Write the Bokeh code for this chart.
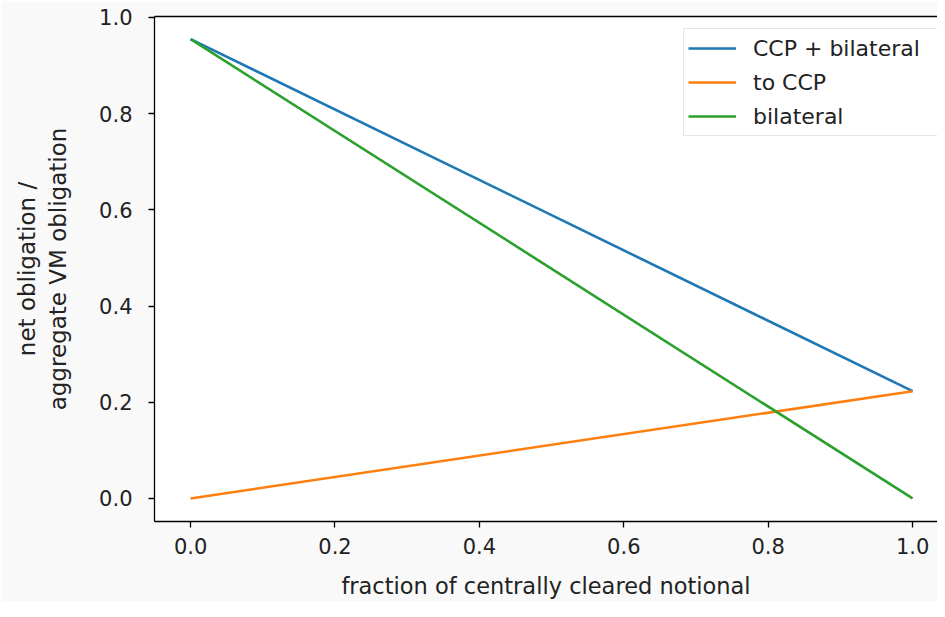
from bokeh.plotting import figure
from bokeh.models import (Range1d, LinearAxis, FixedTicker, PrintfTickFormatter,
                          Legend, LegendItem)
from bokeh.embed import file_html
from bokeh.resources import INLINE

# Data
frac = [0.0, 1.0]
ccp_plus_bilateral = [0.955, 0.223]
to_ccp = [0.0, 0.223]
bilateral = [0.955, 0.0]
series_names = ["CCP + bilateral", "to CCP", "bilateral"]
series_colors = ["#1f77b4", "#ff7f0e", "#2ca02c"]
tick_values = [0.0, 0.2, 0.4, 0.6, 0.8, 1.0]

FONT = "DejaVu Sans"

p = figure(width=937, height=601,
           x_range=Range1d(-0.05, 1.0345), y_range=Range1d(-0.0479, 1.002),
           output_backend="svg", toolbar_location=None,
           min_border_left=154, min_border_right=0, min_border_top=16,
           min_border_bottom=80)
p.grid.visible = False
p.outline_line_color = None
p.background_fill_color = "white"
p.border_fill_color = "#f9f9f9"

for ax in (p.xaxis[0], p.yaxis[0]):
    ax.ticker = FixedTicker(ticks=tick_values)
    ax.formatter = PrintfTickFormatter(format="%.1f")
    ax.minor_tick_line_color = None
    ax.axis_line_color = "black"
    ax.axis_line_width = 1.3
    ax.major_tick_line_color = "black"
    ax.major_tick_line_width = 1.3
    ax.major_tick_out = 6
    ax.major_tick_in = 0
    ax.major_label_text_font = FONT
    ax.major_label_text_font_size = "21px"
    ax.major_label_text_color = "#222222"
    ax.axis_label_text_font = FONT
    ax.axis_label_text_font_style = "normal"
    ax.axis_label_text_color = "#222222"

p.xaxis[0].axis_label = "fraction of centrally cleared notional"
p.xaxis[0].axis_label_text_font_size = "22.5px"
p.xaxis[0].major_label_standoff = 10
p.xaxis[0].axis_label_standoff = 16
p.yaxis[0].axis_label = "net obligation /\naggregate VM obligation"
p.yaxis[0].axis_label_text_font_size = "23px"
p.yaxis[0].major_label_standoff = 16
p.yaxis[0].axis_label_standoff = 25

top = LinearAxis(ticker=FixedTicker(ticks=[]), major_label_text_font_size="0px",
                 axis_line_color="black", axis_line_width=1.3,
                 major_tick_line_color=None, minor_tick_line_color=None,
                 major_label_standoff=0, axis_label_standoff=0)
p.add_layout(top, "above")

items = []
for ys, name, col in zip([ccp_plus_bilateral, to_ccp, bilateral], series_names, series_colors):
    r = p.line(frac, ys, line_color=col, line_width=2.6)
    items.append(LegendItem(label=name, renderers=[r]))

legend = Legend(items=items, location=(529, 385))
legend.label_text_font = FONT
legend.label_text_font_size = "22px"
legend.label_text_color = "#222222"
legend.glyph_width = 48
legend.glyph_height = 30
legend.label_height = 30
legend.label_width = 180
legend.spacing = 4
legend.label_standoff = 17
legend.padding = 4
legend.margin = 0
legend.border_line_color = "#cccccc"
legend.border_line_width = 1.3
legend.background_fill_color = "white"
legend.background_fill_alpha = 0.8
p.add_layout(legend)

open("out.html", "w").write(file_html(p, INLINE))
